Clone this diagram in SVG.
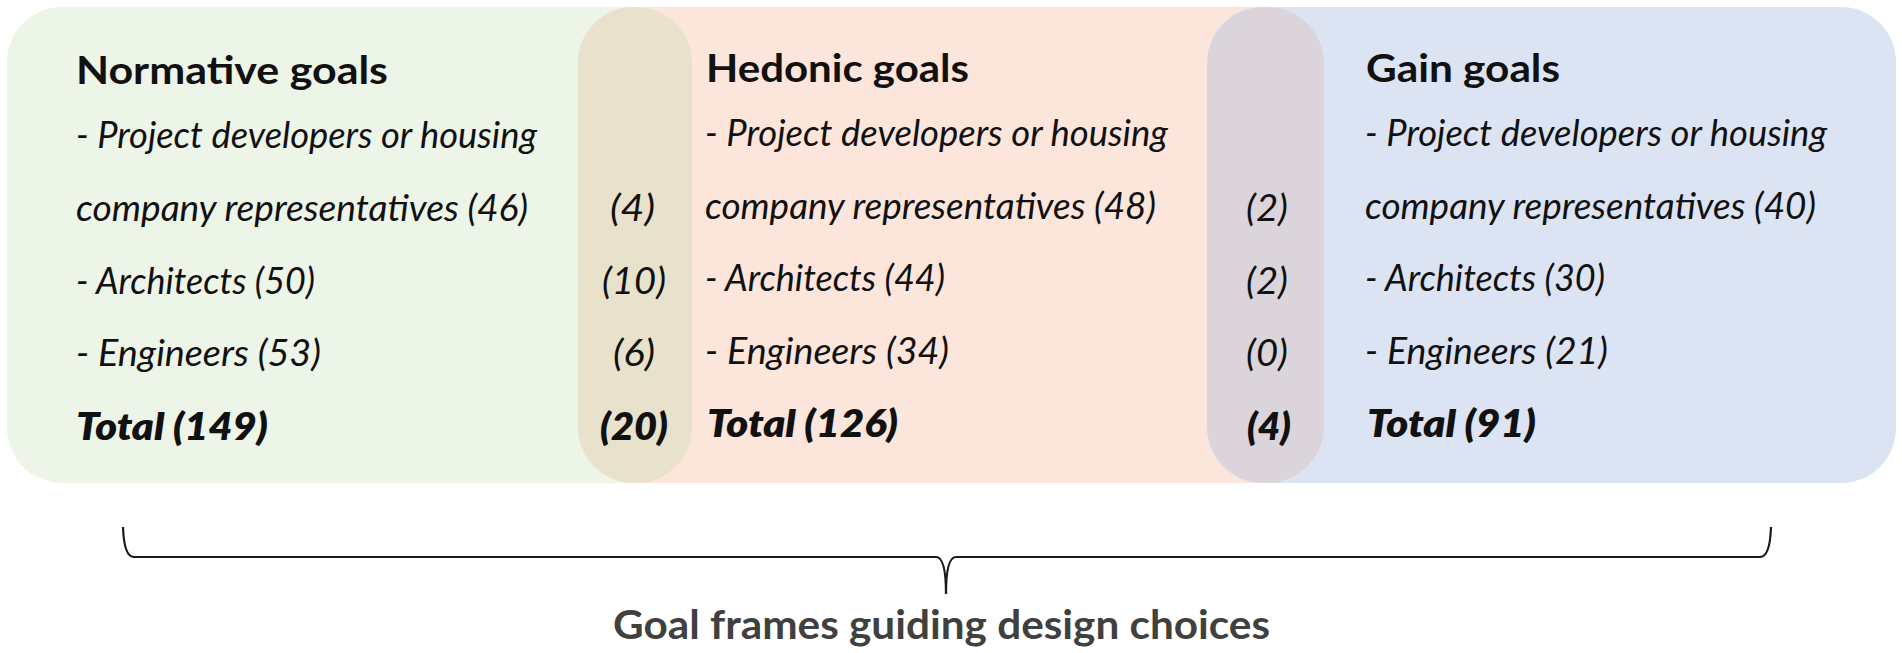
<svg xmlns="http://www.w3.org/2000/svg" width="1902" height="653" viewBox="0 0 1902 653">
<style>
.t{font-family:Lato,"Open Sans","Liberation Sans",sans-serif;fill:#111;}
.h{font-size:39px;font-weight:700;}
.b{font-size:36px;font-style:italic;}
.tot{font-size:38px;font-weight:800;font-style:italic;}
.title{font-family:Lato,"Open Sans","Liberation Sans",sans-serif;font-size:41px;font-weight:700;fill:#404040;}
</style>
<rect width="1902" height="653" fill="#ffffff"/>
<g id="frames">
<rect id="box-normative" x="7" y="7" width="685" height="476" rx="55" fill="#EDF4E8"/>
<rect id="box-hedonic" x="578" y="7" width="746" height="476" rx="55" fill="#FCE5DA"/>
<rect id="box-gain" x="1207" y="7" width="689" height="476" rx="55" fill="#DCE3F2"/>
<rect id="overlap-nh-shape" x="578" y="7" width="114" height="476" rx="56" fill="#E8E2CC"/>
<rect id="overlap-hg-shape" x="1207" y="7" width="117" height="476" rx="57" fill="#DBD4DA"/>
</g>
<g id="normative">
<text class="t h" x="76" y="84" textLength="312" lengthAdjust="spacingAndGlyphs">Normative goals</text>
<text class="t b" x="76" y="148" textLength="461" lengthAdjust="spacingAndGlyphs">- Project developers or housing</text>
<text class="t b" x="76" y="221" textLength="452" lengthAdjust="spacingAndGlyphs">company representatives (46)</text>
<text class="t b" x="76" y="294" textLength="239" lengthAdjust="spacingAndGlyphs">- Architects (50)</text>
<text class="t b" x="76" y="366" textLength="245" lengthAdjust="spacingAndGlyphs">- Engineers (53)</text>
<text class="t tot" x="76" y="440" textLength="192" lengthAdjust="spacingAndGlyphs">Total (149)</text>
</g>
<g id="overlap-nh">
<text class="t b" x="610" y="221" textLength="45" lengthAdjust="spacingAndGlyphs">(4)</text>
<text class="t b" x="602" y="294" textLength="64" lengthAdjust="spacingAndGlyphs">(10)</text>
<text class="t b" x="613" y="366" textLength="42" lengthAdjust="spacingAndGlyphs">(6)</text>
<text class="t tot" x="600" y="440" textLength="68" lengthAdjust="spacingAndGlyphs">(20)</text>
</g>
<g id="hedonic">
<text class="t h" x="706" y="82" textLength="263" lengthAdjust="spacingAndGlyphs">Hedonic goals</text>
<text class="t b" x="705" y="146" textLength="463" lengthAdjust="spacingAndGlyphs">- Project developers or housing</text>
<text class="t b" x="705" y="219" textLength="451" lengthAdjust="spacingAndGlyphs">company representatives (48)</text>
<text class="t b" x="705" y="291" textLength="240" lengthAdjust="spacingAndGlyphs">- Architects (44)</text>
<text class="t b" x="705" y="364" textLength="244" lengthAdjust="spacingAndGlyphs">- Engineers (34)</text>
<text class="t tot" x="707" y="437" textLength="191" lengthAdjust="spacingAndGlyphs">Total (126)</text>
</g>
<g id="overlap-hg">
<text class="t b" x="1246" y="221" textLength="42" lengthAdjust="spacingAndGlyphs">(2)</text>
<text class="t b" x="1246" y="294" textLength="42" lengthAdjust="spacingAndGlyphs">(2)</text>
<text class="t b" x="1246" y="366" textLength="42" lengthAdjust="spacingAndGlyphs">(0)</text>
<text class="t tot" x="1247" y="440" textLength="44" lengthAdjust="spacingAndGlyphs">(4)</text>
</g>
<g id="gain">
<text class="t h" x="1366" y="82" textLength="194" lengthAdjust="spacingAndGlyphs">Gain goals</text>
<text class="t b" x="1365" y="146" textLength="462" lengthAdjust="spacingAndGlyphs">- Project developers or housing</text>
<text class="t b" x="1365" y="219" textLength="451" lengthAdjust="spacingAndGlyphs">company representatives (40)</text>
<text class="t b" x="1365" y="291" textLength="240" lengthAdjust="spacingAndGlyphs">- Architects (30)</text>
<text class="t b" x="1365" y="364" textLength="243" lengthAdjust="spacingAndGlyphs">- Engineers (21)</text>
<text class="t tot" x="1367" y="437" textLength="169" lengthAdjust="spacingAndGlyphs">Total (91)</text>
</g>
<g id="connectors">
<path id="brace" d="M123,527 Q124,557 134,557 L936,557 Q946,557 946,594 Q946,557 956,557 L1760,557 Q1770,557 1771,527" fill="none" stroke="#1a1a1a" stroke-width="2.2"/>
</g>
<g id="label-goal-frames">
<text class="title" x="613" y="639" textLength="657" lengthAdjust="spacingAndGlyphs">Goal frames guiding design choices</text>
</g>
</svg>
